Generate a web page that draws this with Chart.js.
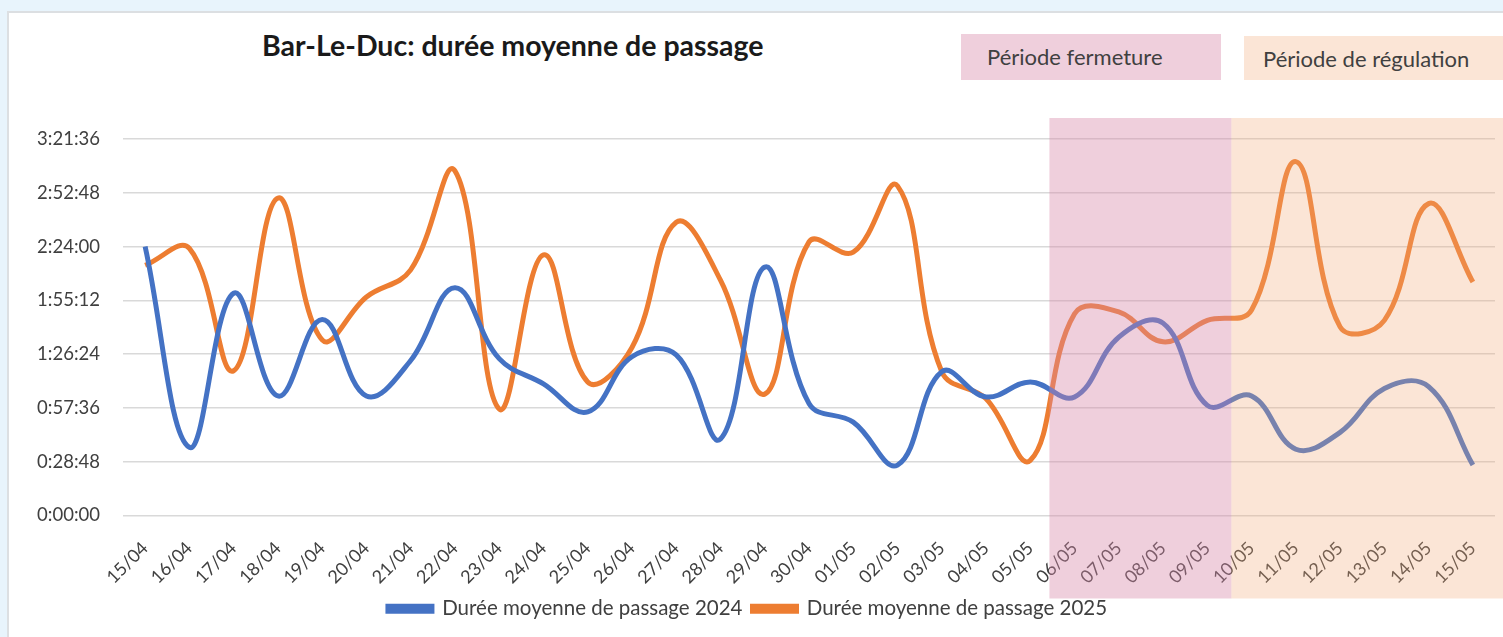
<!DOCTYPE html>
<html>
<head>
<meta charset="utf-8">
<script src="https://cdn.jsdelivr.net/npm/chart.js@4/dist/chart.umd.min.js"></script>
<style>
  body { margin: 0; background: #e8f4fc; font-family: Lato, 'Open Sans', sans-serif; }
  #panel { position: absolute; left: 7px; top: 11px; width: 1496px; height: 626px; background: #fff;
    border-left: 2px solid #dcdfe2; border-top: 2px solid #dcdfe2; box-sizing: border-box; }
  #title { position: absolute; left: 262px; top: 28px; font-size: 28.5px; font-weight: bold; color: #1a1a1a; }
  .tag { position: absolute; font-size: 22px; color: #404040; padding-left: 26px; line-height: 45px; box-sizing: border-box; }
  #wrap { position: absolute; left: 0; top: 0; width: 1503px; height: 637px; }
</style>
</head>
<body>
<div id="panel"></div>
<div id="title">Bar-Le-Duc: durée moyenne de passage</div>
<div class="tag" style="left:961px;top:34px;width:260px;height:46px;background:#efcfdc;">Période fermeture</div>
<div class="tag" style="left:1244px;top:36px;width:259px;height:44px;background:#fbe5d6;padding-left:19px;">Période de régulation</div>
<div id="wrap"><canvas id="chart"></canvas></div>
<script>
// Dates (x axis)
const days = ['15/04', '16/04', '17/04', '18/04', '19/04', '20/04', '21/04', '22/04', '23/04', '24/04',
  '25/04', '26/04', '27/04', '28/04', '29/04', '30/04', '01/05', '02/05', '03/05', '04/05',
  '05/05', '06/05', '07/05', '08/05', '09/05', '10/05', '11/05', '12/05', '13/05', '14/05', '15/05'];

// Average duration, in minutes
const minutes2024 = [144, 36.5, 119, 64, 105, 64, 83, 122, 84, 70.5,
  55.5, 85, 86, 41, 133, 60, 50, 27, 77, 63.5,
  71.5, 63.5, 95.5, 103, 59, 64, 35.5, 44.5, 68, 69, 27];

const minutes2025 = [134, 143, 77.5, 170, 94, 117, 131.5, 184.5, 57, 139.5,
  71.5, 90, 157, 126, 65, 146.5, 141, 176.5, 77, 62.5,
  29.5, 108, 109, 93, 104.5, 110, 189.5, 101, 104.5, 167, 125];

const seriesNames = ['Durée moyenne de passage 2024', 'Durée moyenne de passage 2025'];

// y axis: 0 to 3:21:36, step 0:28:48 (in seconds)
const yMax = 12096;
const yStep = 1728;

// Periods, as category positions (between two days)
const closedStart = 20.5, closedEnd = 24.5;

function toSeconds(arr) {
  return arr.map(function (m) { return m * 60; });
}

// seconds -> h:mm:ss
function hms(v) {
  const s = Math.round(v);
  const h = Math.floor(s / 3600);
  const m = Math.floor((s % 3600) / 60);
  const sec = s % 60;
  return h + ':' + String(m).padStart(2, '0') + ':' + String(sec).padStart(2, '0');
}

// Shaded periods drawn over everything, like the shapes in the original
const periodShade = {
  id: 'periodShade',
  afterDraw: function (chart) {
    const c = chart.ctx, x = chart.scales.x, area = chart.chartArea;
    const x0 = x.getPixelForValue(closedStart) - 3, x1 = x.getPixelForValue(closedEnd) + 2;
    const top = area.top - 21, bottom = area.bottom + 83;
    c.save();
    c.fillStyle = 'rgba(215, 135, 168, 0.4)';
    c.fillRect(x0, top, x1 - x0, bottom - top);
    c.fillStyle = 'rgba(242, 168, 118, 0.3)';
    c.fillRect(x1, top, chart.width - x1, bottom - top);
    c.restore();
  }
};

const ctx = document.getElementById('chart');

new Chart(ctx, {
  type: 'line',
  data: {
    labels: days,
    datasets: [
      {
        label: seriesNames[0],
        data: toSeconds(minutes2024),
        borderColor: '#4472c4',
        backgroundColor: '#4472c4',
        borderWidth: 5,
        pointRadius: 0,
        tension: 0.4
      },
      {
        label: seriesNames[1],
        data: toSeconds(minutes2025),
        borderColor: '#ed7d31',
        backgroundColor: '#ed7d31',
        borderWidth: 5,
        pointRadius: 0,
        tension: 0.4
      }
    ]
  },
  options: {
    responsive: true,
    maintainAspectRatio: false,
    animation: false,
    layout: { padding: { top: 139, right: 8, left: 0, bottom: 8 } },
    plugins: {
      legend: {
        position: 'bottom',
        labels: {
          boxWidth: 44,
          boxHeight: 5,
          padding: 10,
          color: '#404040',
          font: { family: 'Lato', size: 20.5 }
        }
      },
      tooltip: { enabled: false }
    },
    scales: {
      x: {
        offset: true,
        grid: { display: false },
        border: { display: false },
        ticks: {
          minRotation: 45,
          maxRotation: 45,
          autoSkip: false,
          color: '#404040',
          padding: 14,
          font: { family: 'Lato', size: 18 }
        },
        afterFit: function (scale) { scale.height = 73; }
      },
      y: {
        min: 0,
        max: yMax,
        grid: { color: '#d9d9d9', lineWidth: 1.5, drawTicks: false },
        border: { display: false },
        ticks: {
          stepSize: yStep,
          padding: 23,
          color: '#404040',
          font: { family: 'Lato', size: 18.5 },
          callback: function (v) { return hms(v); }
        },
        afterFit: function (scale) { scale.width = 123; }
      }
    }
  },
  plugins: [periodShade]
});
</script>
</body>
</html>
